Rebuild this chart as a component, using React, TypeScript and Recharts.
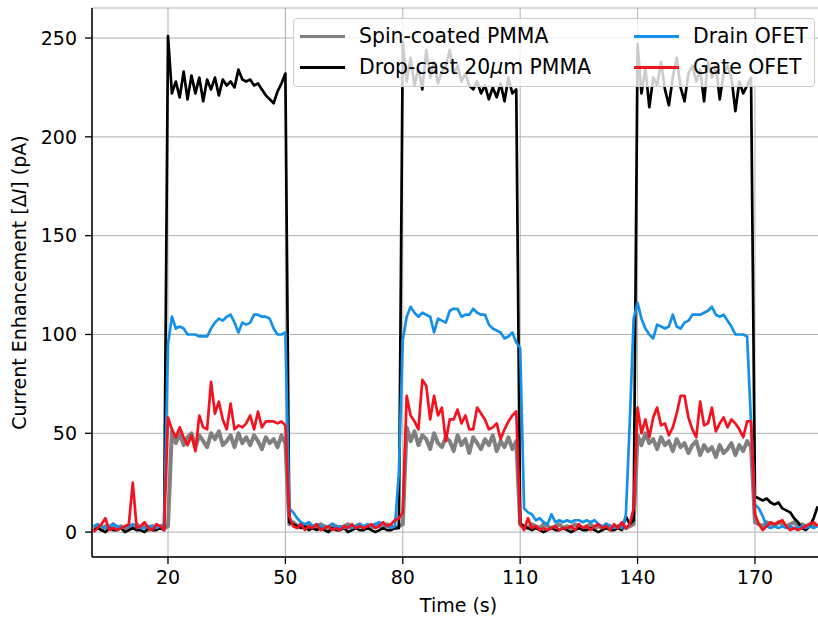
import React from 'react';
import { LineChart, Line, XAxis, YAxis, CartesianGrid } from 'recharts';

// one reading per second, t = 1 ... 186 s (values in pA)
const spinCoated = [
  2, 3, 1, 3, 2, 4, 2, 3, 1, 3,
  2, 4, 2, 3, 1, 3, 2, 3, 2, 3,
  51, 45, 50, 44, 48, 50, 43, 49, 46, 43,
  50, 47, 51, 44, 46, 49, 43, 50, 45, 48,
  44, 49, 46, 42, 48, 45, 47, 43, 49, 45,
  4, 5, 3, 4, 2, 4, 3, 2, 4, 3,
  2, 4, 3, 2, 3, 4, 2, 3, 4, 2,
  3, 2, 4, 3, 2, 4, 3, 2, 3, 4,
  53, 46, 51, 44, 49, 47, 42, 50, 45, 43,
  48, 46, 41, 49, 44, 47, 40, 48, 45, 42,
  47, 44, 49, 41, 46, 43, 48, 42, 46, 4,
  3, 2, 4, 3, 2, 4, 3, 2, 3, 4,
  2, 3, 2, 4, 3, 2, 3, 4, 2, 3,
  2, 4, 3, 2, 3, 4, 2, 3, 4, 49,
  44, 50, 45, 47, 42, 48, 44, 46, 41, 47,
  43, 45, 40, 44, 46, 39, 44, 41, 43, 38,
  44, 40, 42, 45, 39, 44, 41, 46, 43, 5,
  4, 3, 5, 4, 3, 5, 4, 3, 4, 5,
  3, 4, 3, 4, 3, 4,
];

const dropCast = [
  1, 2, 1, 0, 2, 1, 1, 2, 0, 1,
  2, 1, 1, 0, 2, 1, 1, 2, 1, 251,
  222, 228, 220, 233, 219, 231, 222, 230, 218, 229,
  224, 230, 221, 229, 226, 228, 225, 234, 229, 228,
  229, 226, 227, 224, 221, 219, 217, 223, 227, 232,
  5, 4, 3, 2, 3, 1, 2, 1, 2, 1,
  0, 2, 1, 1, 2, 0, 1, 2, 1, 1,
  2, 1, 0, 1, 2, 1, 1, 2, 2, 248,
  228, 240, 226, 235, 224, 244, 230, 238, 227, 233,
  236, 244, 232, 236, 228, 232, 226, 224, 228, 222,
  226, 219, 225, 220, 227, 218, 230, 222, 224, 4,
  3, 2, 1, 2, 1, 0, 1, 2, 1, 1,
  2, 1, 0, 1, 2, 1, 1, 2, 1, 0,
  1, 2, 1, 1, 2, 1, 8, 4, 6, 247,
  222, 235, 215, 230, 226, 238, 224, 216, 230, 240,
  225, 218, 232, 236, 228, 234, 218, 238, 230, 236,
  219, 232, 236, 230, 213, 228, 222, 226, 230, 18,
  17, 16, 17, 15, 14, 15, 12, 11, 10, 7,
  5, 2, 1, 3, 7, 13,
];

const drainOfet = [
  3, 4, 3, 2, 3, 4, 3, 2, 3, 3,
  4, 3, 2, 2, 3, 3, 2, 3, 4, 95,
  109, 103, 104, 103, 100, 100, 100, 99, 99, 99,
  103, 106, 108, 107, 109, 110, 106, 101, 106, 105,
  106, 110, 110, 109, 109, 108, 103, 100, 100, 101,
  12, 10, 7, 5, 4, 5, 3, 4, 3, 2,
  3, 4, 2, 3, 2, 3, 2, 3, 4, 3,
  4, 3, 4, 5, 4, 3, 2, 3, 30, 97,
  109, 114, 111, 109, 111, 110, 109, 101, 108, 107,
  106, 112, 113, 113, 109, 110, 110, 113, 111, 110,
  110, 105, 103, 102, 101, 98, 99, 101, 96, 93,
  12, 10, 9, 6, 7, 5, 4, 9, 5, 6,
  5, 6, 5, 6, 6, 5, 6, 5, 6, 4,
  3, 4, 3, 2, 3, 2, 8, 55, 108, 116,
  108, 103, 100, 98, 105, 104, 103, 104, 110, 104,
  103, 106, 107, 110, 110, 110, 111, 112, 114, 110,
  109, 110, 107, 104, 100, 100, 100, 99, 55, 14,
  12, 8, 3, 2, 3, 2, 3, 2, 3, 2,
  2, 3, 2, 3, 2, 3,
];

const gateOfet = [
  0, 2, 4, 7, 1, 2, 1, 2, 3, 4,
  25, 2, 3, 5, 2, 1, 4, 3, 1, 58,
  52, 48, 53, 48, 44, 49, 41, 59, 53, 52,
  76, 60, 66, 57, 52, 65, 52, 54, 53, 55,
  59, 52, 61, 53, 56, 56, 56, 55, 56, 54,
  8, 3, 2, 4, 1, 3, 2, 4, 1, 2,
  3, 1, 2, 1, 3, 2, 4, 2, 3, 2,
  3, 4, 2, 3, 5, 3, 4, 6, 7, 10,
  69, 59, 56, 52, 77, 74, 57, 69, 59, 63,
  46, 57, 57, 62, 55, 59, 52, 52, 63, 60,
  57, 52, 53, 55, 47, 52, 56, 59, 61, 4,
  1, 7, 2, 3, 1, 2, 1, 2, 3, 1,
  2, 2, 3, 1, 4, 2, 3, 1, 3, 4,
  2, 3, 1, 4, 2, 5, 2, 4, 12, 63,
  50, 57, 48, 58, 63, 54, 55, 49, 53, 60,
  69, 69, 58, 52, 48, 66, 54, 55, 63, 51,
  55, 58, 53, 57, 55, 52, 48, 56, 56, 9,
  4, 1, 3, 5, 4, 5, 6, 3, 1, 2,
  1, 2, 3, 4, 5, 3,
];

const xTicks = [20, 50, 80, 110, 140, 170];
const yTicks = [0, 50, 100, 150, 200, 250];

const series = [
  { key: 'spin', name: 'Spin-coated PMMA', color: '#808080', width: 4, values: spinCoated },
  { key: 'drop', name: 'Drop-cast 20µm PMMA', color: '#000000', width: 2.7, values: dropCast },
  { key: 'drain', name: 'Drain OFET', color: '#1590e8', width: 2.7, values: drainOfet },
  { key: 'gate', name: 'Gate OFET', color: '#f5121f', width: 2.7, values: gateOfet },
];

const rows = spinCoated.map((_, i) => {
  const row: Record<string, number> = { t: i + 1 };
  series.forEach(s => { row[s.key] = s.values[i]; });
  return row;
});

const FONT = '"DejaVu Sans", sans-serif';

const YLabel = ({ viewBox }: any) => {
  const x = 26;
  const y = viewBox ? viewBox.y + viewBox.height / 2 : 282;
  return (
    <text x={x} y={y} transform={`rotate(-90 ${x} ${y})`} textAnchor="middle" fontSize={19} fill="#000" fontFamily={FONT}>
      Current Enhancement [Δ<tspan fontStyle="italic">I</tspan>] (pA)
    </text>
  );
};

const XLabel = ({ viewBox }: any) => {
  const x = viewBox ? viewBox.x + viewBox.width / 2 : 458;
  const y = viewBox ? viewBox.y + 55 : 612;
  return (
    <text x={x} y={y} textAnchor="middle" fontSize={19} fill="#000" fontFamily={FONT}>
      Time (s)
    </text>
  );
};

const legendLabel = (name: string) => {
  // the µ is set in math italics in the original
  if (name.includes('µ')) {
    const [a, b] = name.split('µ');
    return <>{a}<i>µ</i>{b}</>;
  }
  return name;
};

export default function App() {
  const tickStyle = { fontSize: 19, fill: '#000', fontFamily: FONT };
  return (
    <div style={{ position: 'absolute', left: 0, top: 0, width: 818, height: 620, overflow: 'hidden', background: '#fff', fontFamily: FONT }}>
      <LineChart width={826} height={620} data={rows} margin={{ top: 8, right: 1, bottom: 0, left: 0 }}>
        <CartesianGrid stroke="#b0b0b0" strokeWidth={1} />
        <XAxis
          dataKey="t"
          type="number"
          domain={[0.58, 187.9]}
          ticks={xTicks}
          allowDataOverflow
          height={63}
          tick={tickStyle}
          tickSize={7}
          tickMargin={7}
          tickLine={{ stroke: '#000', strokeWidth: 1.3 }}
          axisLine={{ stroke: '#000', strokeWidth: 1.5 }}
          label={<XLabel />}
        />
        <XAxis
          xAxisId="top"
          orientation="top"
          dataKey="t"
          type="number"
          domain={[0.58, 187.9]}
          height={0}
          tick={false}
          tickLine={false}
          axisLine={{ stroke: '#000', strokeWidth: 1.5 }}
        />
        <YAxis
          type="number"
          domain={[-12.6, 265.2]}
          ticks={yTicks}
          allowDataOverflow
          width={92}
          tick={tickStyle}
          tickSize={7}
          tickMargin={8}
          tickLine={{ stroke: '#000', strokeWidth: 1.3 }}
          axisLine={{ stroke: '#000', strokeWidth: 1.5 }}
          label={<YLabel />}
        />
        {series.map(s => (
          <Line
            key={s.key}
            dataKey={s.key}
            name={s.name}
            type="linear"
            stroke={s.color}
            strokeWidth={s.width}
            strokeLinejoin="round"
            dot={false}
            activeDot={false}
            isAnimationActive={false}
          />
        ))}
      </LineChart>
      <div
        style={{
          position: 'absolute', left: 293, top: 18, width: 522, height: 69,
          background: 'rgba(255,255,255,0.8)', border: '1px solid #cccccc', borderRadius: 4,
          display: 'grid', gridTemplateRows: '31px 31px', gridTemplateColumns: '334px auto',
          gridAutoFlow: 'column', paddingLeft: 6, paddingTop: 2, boxSizing: 'border-box',
        }}
      >
        {series.map(s => (
          <div key={s.key} style={{ display: 'flex', alignItems: 'center', fontSize: 20.4, lineHeight: '31px', color: '#000', whiteSpace: 'nowrap' }}>
            <span style={{ display: 'inline-block', width: 45, height: 3, background: s.color, marginRight: 14 }} />
            {legendLabel(s.name)}
          </div>
        ))}
      </div>
    </div>
  );
}
